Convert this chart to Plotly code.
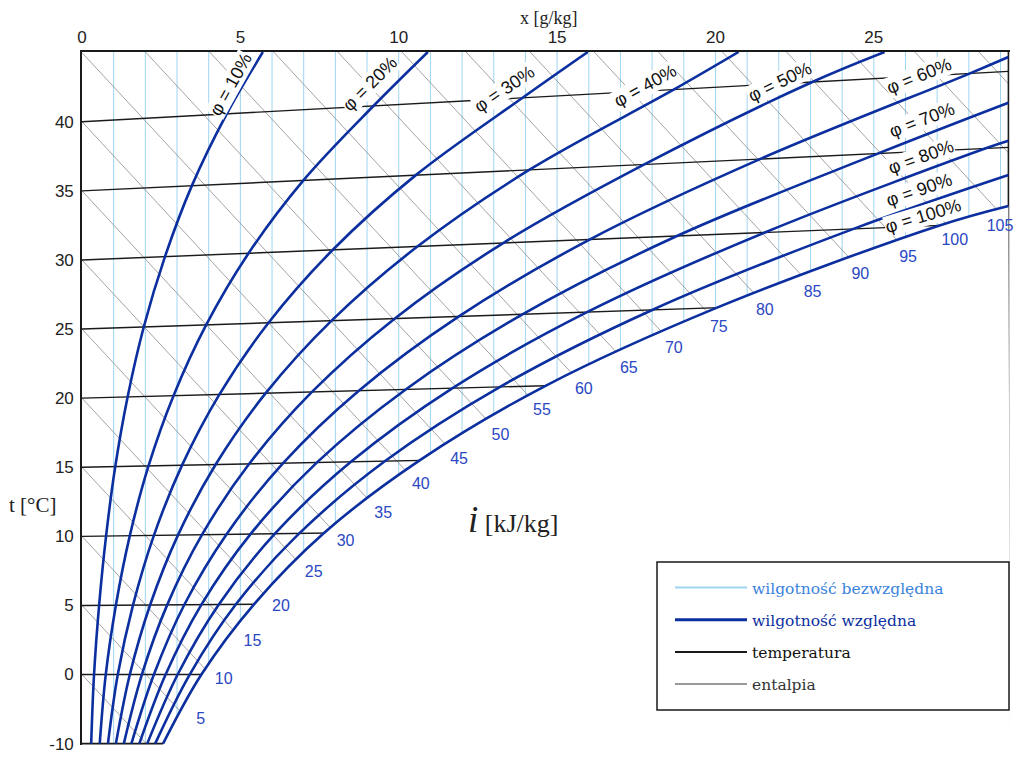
import numpy as np
import plotly.graph_objects as go

# frame of the chart (the reference labels the right edge "30" and the bottom edge "-10")
x_max = 29.25
y_min = -5.0
y_max = 45.05

x_ticks = [0, 5, 10, 15, 20, 25, 29.25]
x_tick_text = ["0", "5", "10", "15", "20", "25", "30"]
t_ticks = [-5, 0, 5, 10, 15, 20, 25, 30, 35, 40]
t_tick_text = ["-10", "0", "5", "10", "15", "20", "25", "30", "35", "40"]

# absolute humidity grid lines, g/kg
x_grid = list(range(1, 30))

# isotherms: t at the left edge, value at the right edge
iso_t = [0, 5, 10, 15, 20, 25, 30, 35, 40]
iso_right = [0.0, 5.45, 10.9, 16.35, 21.8, 27.25, 32.7, 38.15, 43.65]

# enthalpy lines, kJ/kg (start at t = i on the left edge)
i_vals = list(range(0, 120, 5))
i_slope = 2.47
i_labels = list(range(5, 110, 5))

# relative humidity curves
x_phi10 = [0.29, 0.38, 0.54, 0.76, 1.05, 1.44, 1.95, 2.62, 3.47, 4.57, 5.71]
t_phi10 = [-5.0, 0.0, 5.01, 10.02, 15.05, 20.09, 25.15, 30.24, 35.38, 40.57, 45.05]
x_phi20 = [0.56, 0.75, 1.07, 1.51, 2.10, 2.89, 3.92, 5.26, 6.99, 9.20, 10.92]
t_phi20 = [-5.0, 0.0, 5.02, 10.05, 15.10, 20.18, 25.30, 30.49, 35.76, 41.14, 45.05]
x_phi30 = [0.82, 1.13, 1.61, 2.27, 3.16, 4.34, 5.89, 7.92, 10.54, 13.90, 15.97]
t_phi30 = [-5.0, 0.0, 5.02, 10.07, 15.15, 20.27, 25.46, 30.74, 36.14, 41.72, 45.05]
x_phi40 = [1.07, 1.51, 2.15, 3.03, 4.22, 5.80, 7.88, 10.60, 14.13, 18.68, 20.73]
t_phi40 = [-5.0, 0.0, 5.03, 10.09, 15.20, 20.36, 25.61, 30.99, 36.53, 42.32, 45.05]
x_phi50 = [1.32, 1.89, 2.69, 3.79, 5.28, 7.26, 9.88, 13.31, 17.77, 23.04, 25.34]
t_phi50 = [-5.0, 0.0, 5.04, 10.12, 15.25, 20.45, 25.77, 31.24, 36.93, 42.86, 45.05]
x_phi60 = [1.56, 2.27, 3.23, 4.56, 6.35, 8.74, 11.90, 16.04, 21.44, 28.0, 29.25]
t_phi60 = [-5.0, 0.0, 5.05, 10.14, 15.30, 20.54, 25.92, 31.49, 37.33, 43.47, 44.69]
x_phi70 = [1.81, 2.64, 3.77, 5.32, 7.42, 10.22, 13.92, 18.80, 25.16, 29.25]
t_phi70 = [-5.0, 0.0, 5.06, 10.16, 15.35, 20.63, 26.08, 31.75, 37.73, 41.38]
x_phi80 = [2.06, 3.02, 4.32, 6.09, 8.49, 11.70, 15.96, 21.58, 28.56, 29.25]
t_phi80 = [-5.0, 0.0, 5.07, 10.19, 15.39, 20.73, 26.24, 32.01, 38.10, 38.63]
x_phi90 = [2.31, 3.40, 4.86, 6.86, 9.57, 13.20, 18.02, 24.38, 29.25]
t_phi90 = [-5.0, 0.0, 5.08, 10.21, 15.45, 20.82, 26.40, 32.27, 36.15]
x_phi100 = [2.56, 3.77, 5.43, 7.64, 10.66, 14.65, 20.05, 27.10, 29.25]
t_phi100 = [-5.0, 0.0, 5.08, 10.24, 15.50, 20.91, 26.55, 32.52, 33.91]

phi_curves = [
    (10, x_phi10, t_phi10), (20, x_phi20, t_phi20), (30, x_phi30, t_phi30),
    (40, x_phi40, t_phi40), (50, x_phi50, t_phi50), (60, x_phi60, t_phi60),
    (70, x_phi70, t_phi70), (80, x_phi80, t_phi80), (90, x_phi90, t_phi90),
]

# label spots for the phi curves: (x, t, angle)
phi_label_pos = {
    10: (4.80, 42.52, -61), 20: (9.18, 42.52, -45), 30: (13.41, 42.16, -34),
    40: (17.83, 42.37, -29), 50: (22.09, 42.59, -26), 60: (26.47, 43.03, -22),
    70: (26.57, 39.84, -21), 80: (26.54, 37.16, -20), 90: (26.47, 34.78, -19),
    100: (26.60, 32.90, -17),
}

LIGHT = "#9ed5f2"
DARK = "#0c2f9f"
BLACK = "#1a1a1a"
GREY = "#8c8c8c"
LABEL_BLUE = "#2a47c4"

# the page puts the figure 8px in from the window corner
W, H = 1008, 752
pw, ph = 928, 693
L, T = 74, 44
R, B = W - L - pw, H - T - ph
x_rng = [0, 29.3]
y_rng = [-5.1, y_max]
px_u = pw / (x_rng[1] - x_rng[0])
py_u = ph / (y_rng[1] - y_rng[0])


def paper_x(px):
    # px measured on the 1024x768 reference
    return (px - 82) / pw


def paper_y(py):
    return (52 + ph - py) / ph


fig = go.Figure()

gx, gy = [], []
for k in x_grid:
    gx += [k, k, None]
    gy += [y_min, y_max, None]
fig.add_trace(go.Scatter(
    x=gx, y=gy, mode="lines", line=dict(color=LIGHT, width=1),
    showlegend=False, hoverinfo="skip"))

ex, ey = [], []
for i in i_vals:
    x_end = min((i - y_min) / i_slope, x_max)
    ex += [0, x_end, None]
    ey += [i, i - i_slope * x_end, None]
fig.add_trace(go.Scatter(
    x=ex, y=ey, mode="lines", line=dict(color=GREY, width=0.8),
    showlegend=False, hoverinfo="skip"))

tx, ty = [], []
for t, yr in zip(iso_t, iso_right):
    tx += [0, x_max, None]
    ty += [t, yr, None]
fig.add_trace(go.Scatter(
    x=tx, y=ty, mode="lines", line=dict(color=BLACK, width=1.4),
    showlegend=False, hoverinfo="skip"))

# right and bottom frame
fig.add_trace(go.Scatter(
    x=[0, x_max, x_max], y=[y_min, y_min, y_max], mode="lines",
    line=dict(color=BLACK, width=1.6), showlegend=False, hoverinfo="skip"))

# white area below saturation line hides the grid there
fig.add_trace(go.Scatter(
    x=[x_phi100[0], x_rng[1]], y=[y_rng[0], y_rng[0]], mode="lines",
    line=dict(width=0, color="white"), showlegend=False, hoverinfo="skip"))
fig.add_trace(go.Scatter(
    x=x_phi100, y=t_phi100, mode="lines", fill="tonexty", fillcolor="white",
    line=dict(color=DARK, width=2.6, shape="spline"),
    showlegend=False, hoverinfo="skip"))

for p, xs, ts in phi_curves:
    fig.add_trace(go.Scatter(
        x=xs, y=ts, mode="lines", line=dict(color=DARK, width=2.6, shape="spline"),
        showlegend=False, hoverinfo="skip"))

# enthalpy labels where the lines meet the saturation curve
sx = np.linspace(x_phi100[0], x_phi100[-1], 4000)
sy = np.interp(sx, x_phi100, t_phi100)
sslope = np.gradient(sy, sx)
x_label_lim = (1000 - 82) / px_u   # keep the last label inside the page
lx, ly = [], []
for i in i_labels:
    k = int(np.argmax((i - i_slope * sx) - sy <= 0))
    a = np.arctan(sslope[k] * py_u / px_u)
    d = 18
    lx.append(min(sx[k] + (d * np.sin(a) + 4) / px_u, x_label_lim))
    ly.append(sy[k] - d * np.cos(a) / py_u)
fig.add_trace(go.Scatter(
    x=lx, y=ly, mode="text", text=[str(i) for i in i_labels],
    textfont=dict(family="Liberation Sans", size=16, color=LABEL_BLUE),
    cliponaxis=False, showlegend=False, hoverinfo="skip"))

# legend entries (thicker sample lines than the chart lines)
legend_items = [
    ("wilgotność bezwzględna", "#3a83dc", LIGHT, 2),
    ("wilgotność względna", DARK, DARK, 3),
    ("temperatura", "#111111", BLACK, 2),
    ("entalpia", "#333333", "#9a9a9a", 2),
]
for n, (label, tcol, lcol, lw) in enumerate(legend_items):
    fig.add_trace(go.Scatter(
        x=[None], y=[None], mode="lines", line=dict(color=lcol, width=lw),
        name=f'<span style="color:{tcol}">{label}</span>',
        legendrank=n + 1, legendgroup=str(n), hoverinfo="skip"))

annotations = []
for p, (ax, ay, ang) in phi_label_pos.items():
    # nudge the label a few px away from its curve (up-left)
    th = np.radians(-ang)
    ax -= 4 * np.sin(th) / px_u
    ay += 4 * np.cos(th) / py_u
    annotations.append(dict(
        x=ax, y=ay, xref="x", yref="y", text=f"φ = {p}%", showarrow=False,
        xanchor="center", yanchor="middle", textangle=ang,
        font=dict(family="Liberation Sans", size=18, color="#111111"),
        bgcolor="white", borderpad=0))

serif = "Liberation Serif"
annotations += [
    dict(x=paper_x(549), y=paper_y(18), xref="paper", yref="paper", text="x [g/kg]",
         xanchor="center", yanchor="middle", showarrow=False,
         font=dict(family=serif, size=18, color="#222222")),
    dict(x=paper_x(32), y=paper_y(505), xref="paper", yref="paper", text="t [°C]",
         xanchor="center", yanchor="middle", showarrow=False,
         font=dict(family=serif, size=21, color="#222222")),
    dict(x=paper_x(513), y=paper_y(519), xref="paper", yref="paper",
         text='<span style="font-size:37px"><i>i</i></span> [kJ/kg]',
         xanchor="center", yanchor="middle", showarrow=False,
         font=dict(family=serif, size=26, color="#222222")),
]

fig.update_layout(
    width=W, height=H,
    margin=dict(l=L, r=R, t=T, b=B, autoexpand=False),
    paper_bgcolor="white", plot_bgcolor="white",
    hovermode=False,
    showlegend=True,
    legend=dict(
        x=paper_x(670), y=paper_y(571), xanchor="left", yanchor="top",
        font=dict(family="DejaVu Serif", size=15.5),
        bgcolor="rgba(0,0,0,0)", borderwidth=0,
        itemwidth=72, traceorder="grouped", tracegroupgap=9),
    annotations=annotations,
    shapes=[dict(type="rect", xref="paper", yref="paper",
                 x0=paper_x(657), x1=paper_x(1009), y0=paper_y(710), y1=paper_y(562),
                 line=dict(color=BLACK, width=1.5), layer="above")],
)
fig.update_xaxes(
    side="top", range=x_rng, tickvals=x_ticks, ticktext=x_tick_text,
    showgrid=False, zeroline=False, showline=True, linecolor=BLACK, linewidth=1.6,
    ticks="", ticklabelstandoff=0,
    tickfont=dict(family="Liberation Sans", size=17, color="#222222"))
fig.update_yaxes(
    range=y_rng, tickvals=t_ticks, ticktext=t_tick_text,
    showgrid=False, zeroline=False, showline=True, linecolor=BLACK, linewidth=1.6,
    ticks="", ticklabelstandoff=3,
    tickfont=dict(family="Liberation Sans", size=17, color="#222222"))

fig.write_html("out.html")
